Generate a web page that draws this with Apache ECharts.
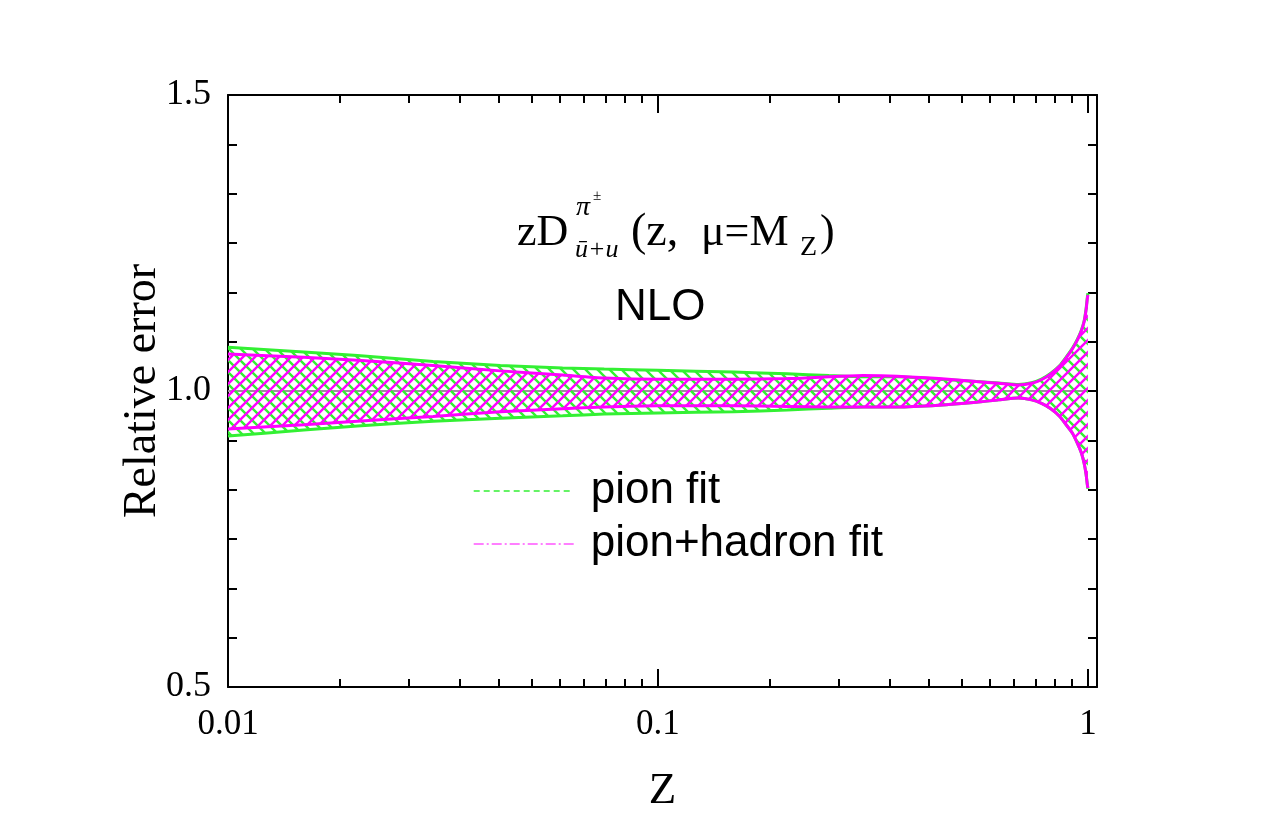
<!DOCTYPE html>
<html>
<head>
<meta charset="utf-8">
<script src="https://cdn.jsdelivr.net/npm/echarts@6/dist/echarts.min.js"></script>
<style>
  html, body { margin: 0; padding: 0; background: #fff; }
  #chart { width: 1275px; height: 825px; }
</style>
</head>
<body>
<div id="chart"></div>
<script>
// band edges, relative to the central fit
const zValues    = [0.01, 0.015, 0.02, 0.03, 0.043, 0.06, 0.075, 0.1, 0.15, 0.2, 0.25, 0.3, 0.36, 0.45, 0.55, 0.62, 0.69, 0.74, 0.78, 0.82, 0.86, 0.89, 0.92, 0.945, 0.965, 0.98, 0.99, 0.997, 1.0];
const pionLow    = [0.924, 0.934, 0.941, 0.949, 0.954, 0.958, 0.961, 0.963, 0.965, 0.968, 0.971, 0.973, 0.973, 0.976, 0.981, 0.985, 0.988, 0.985, 0.979, 0.970, 0.957, 0.943, 0.929, 0.912, 0.896, 0.878, 0.860, 0.842, 0.835];
const pionHigh   = [1.074, 1.066, 1.060, 1.050, 1.043, 1.039, 1.037, 1.035, 1.032, 1.029, 1.026, 1.024, 1.024, 1.020, 1.016, 1.0135, 1.011, 1.014, 1.020, 1.030, 1.043, 1.057, 1.072, 1.087, 1.102, 1.118, 1.138, 1.158, 1.165];
const hadronLow  = [0.936, 0.943, 0.949, 0.957, 0.965, 0.970, 0.973, 0.975, 0.975, 0.974, 0.973, 0.973, 0.973, 0.976, 0.981, 0.985, 0.988, 0.985, 0.979, 0.970, 0.957, 0.943, 0.929, 0.912, 0.896, 0.878, 0.860, 0.842, 0.836];
const hadronHigh = [1.0625, 1.057, 1.052, 1.043, 1.034, 1.027, 1.022, 1.020, 1.020, 1.021, 1.024, 1.026, 1.025, 1.021, 1.016, 1.013, 1.010, 1.013, 1.019, 1.029, 1.042, 1.056, 1.071, 1.086, 1.101, 1.117, 1.136, 1.156, 1.162];
const centerZ     = [0.01, 1];
const centerValue = [1, 1];

const xMajorTicks = [0.01, 0.1, 1];
const xTickLabels = ['0.01', '0.1', '1'];
const xMinorTicks = [0.01818, 0.02636, 0.03455, 0.04273, 0.05091, 0.05909, 0.06727, 0.07545, 0.08364, 0.09182,
                     0.1818, 0.2636, 0.3455, 0.4273, 0.5091, 0.5909, 0.6727, 0.7545, 0.8364, 0.9182];

const GREEN = '#33f033';
const MAGENTA = '#ff00ff';
const SERIF = '"Liberation Serif", "Times New Roman", serif';
const SANS = '"Liberation Sans", Arial, sans-serif';

function hatch(color, dir) {
  const s = 12;
  const c = document.createElement('canvas');
  c.width = s;
  c.height = s;
  const ctx = c.getContext('2d');
  ctx.strokeStyle = color;
  ctx.lineWidth = 2.4;
  ctx.beginPath();
  if (dir === '/') {
    ctx.moveTo(0, s); ctx.lineTo(s, 0);
    ctx.moveTo(-2, 2); ctx.lineTo(2, -2);
    ctx.moveTo(s - 2, s + 2); ctx.lineTo(s + 2, s - 2);
  } else {
    ctx.moveTo(0, 0); ctx.lineTo(s, s);
    ctx.moveTo(-2, s - 2); ctx.lineTo(2, s + 2);
    ctx.moveTo(s - 2, -2); ctx.lineTo(s + 2, 2);
  }
  ctx.stroke();
  return { image: c, repeat: 'repeat' };
}

const pair = (xs, ys) => xs.map((x, i) => [x, ys[i]]);

// hatched band between lo and hi, drawn once as one polygon through the axes
function band(lo, hi, color, dir, z) {
  const fill = hatch(color, dir);
  return {
    type: 'custom', silent: true, z,
    data: zValues.map((v, i) => [v, lo[i], hi[i]]),
    encode: { x: 0, y: [1, 2] },
    renderItem: (params, api) => {
      if (params.dataIndex !== 0) {
        return null;
      }
      const top = zValues.map((v, i) => api.coord([v, hi[i]]));
      const bottom = zValues.map((v, i) => api.coord([v, lo[i]])).reverse();
      return {
        type: 'polygon',
        shape: { points: top.concat(bottom) },
        style: { fill, stroke: null }
      };
    }
  };
}

function edge(name, values, color, z) {
  return {
    name, type: 'line', symbol: 'none', smooth: 0.2, silent: true, z,
    data: pair(zValues, values),
    itemStyle: { color },
    lineStyle: { color, width: 3 }
  };
}

const axisLine = { color: '#000', width: 2 };

function xAxisOf(position, ticks, tickLength, main) {
  return {
    type: 'log', logBase: 10, min: 0.01, max: 1.05, position,
    axisLine: { show: main, onZero: false, lineStyle: axisLine },
    axisTick: { show: true, inside: true, length: tickLength, lineStyle: axisLine, customValues: ticks },
    axisLabel: position === 'bottom' && main ? {
      show: true, customValues: xMajorTicks, margin: 20, color: '#000',
      fontFamily: SERIF, fontSize: 35,
      formatter: (v) => {
        const i = xMajorTicks.findIndex((t) => Math.abs(Math.log10(t) - Math.log10(v)) < 1e-6);
        return i < 0 ? '' : xTickLabels[i];
      }
    } : { show: false },
    splitLine: { show: false },
    minorTick: { show: false }
  };
}

function yAxisOf(position) {
  return {
    type: 'value', min: 0.5, max: 1.5, interval: 0.5, position,
    axisLine: { show: true, onZero: false, lineStyle: axisLine },
    axisTick: { show: true, inside: true, length: 9, lineStyle: axisLine },
    minorTick: { show: true, splitNumber: 6, length: 9, lineStyle: axisLine },
    axisLabel: position === 'left' ? {
      show: true, margin: 17, color: '#000', fontFamily: SERIF, fontSize: 36,
      formatter: (v) => v.toFixed(1)
    } : { show: false },
    splitLine: { show: false },
    minorSplitLine: { show: false }
  };
}

const xMain = xAxisOf('bottom', xMajorTicks, 18, true);
xMain.name = 'Z';
xMain.nameLocation = 'middle';
xMain.nameGap = 82;
xMain.nameTextStyle = { fontFamily: SERIF, fontSize: 45, color: '#000' };

const yMain = yAxisOf('left');
yMain.name = 'Relative error';
yMain.nameLocation = 'middle';
yMain.nameRotate = 90;
yMain.nameGap = 62;
yMain.nameMoveOverlap = false;
yMain.nameTextStyle = { fontFamily: SERIF, fontSize: 46, color: '#000' };

const titleFont = '44px ' + SERIF;
const txt = (x, y, text, font) => ({
  type: 'text', x, y, silent: true,
  style: { text, font, fill: '#000', verticalAlign: 'middle', textVerticalAlign: 'middle' }
});

const chart = echarts.init(document.getElementById('chart'), null, { renderer: 'canvas' });
chart.setOption({
  animation: false,
  backgroundColor: '#fff',
  grid: { left: 228, right: 178, top: 95, bottom: 138, containLabel: false, outerBoundsMode: 'none' },
  xAxis: [
    xMain,
    xAxisOf('bottom', xMinorTicks, 8, false),
    xAxisOf('top', xMajorTicks, 18, true),
    xAxisOf('top', xMinorTicks, 8, false)
  ],
  yAxis: [yMain, yAxisOf('right')],
  legend: {
    orient: 'vertical',
    left: 468,
    top: 464,
    itemWidth: 100,
    itemHeight: 14,
    itemGap: 9,
    selectedMode: false,
    textStyle: { fontFamily: SANS, fontSize: 44, color: '#000', padding: [0, 0, 0, 12] },
    data: [
      { name: 'pion fit', itemStyle: { opacity: 0 }, lineStyle: { color: GREEN, width: 1.4, type: [6, 4] } },
      { name: 'pion+hadron fit', itemStyle: { opacity: 0 }, lineStyle: { color: MAGENTA, width: 1.2, type: [10, 3, 2, 3] } }
    ]
  },
  series: [
    edge('pion fit', pionLow, GREEN, 3),
    edge('pion+hadron fit', hadronLow, MAGENTA, 5),
    {
      name: 'central', type: 'line', symbol: 'none', silent: true, z: 1,
      data: pair(centerZ, centerValue),
      lineStyle: { color: '#a08aa0', width: 2 }
    },
    band(pionLow, pionHigh, GREEN, '\\', 2),
    edge('pion fit', pionHigh, GREEN, 3),
    band(hadronLow, hadronHigh, MAGENTA, '/', 4),
    edge('pion+hadron fit', hadronHigh, MAGENTA, 5)
  ],
  graphic: [
    txt(517, 233, 'zD', titleFont),
    txt(576, 208, 'π', 'italic 28px ' + SERIF),
    txt(593, 196, '±', '15px ' + SERIF),
    txt(575, 250, 'ū+u', 'italic 26px ' + SERIF),
    txt(631, 233, '(z,', '46px ' + SERIF),
    txt(701, 233, 'μ=M', titleFont),
    txt(800, 248, 'Z', '28px ' + SERIF),
    txt(820, 233, ')', titleFont),
    txt(615, 308, 'NLO', '44px ' + SANS)
  ]
});
</script>
</body>
</html>
